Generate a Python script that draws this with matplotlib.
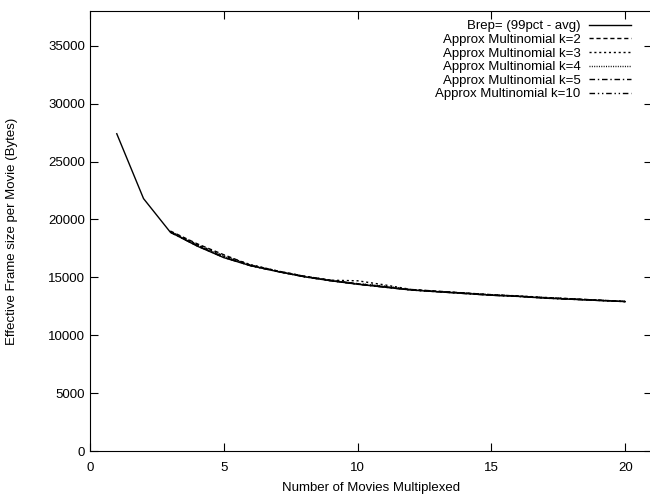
import numpy as np
import matplotlib
matplotlib.use("Agg")
import matplotlib.pyplot as plt

plt.rcParams["font.family"] = ["Liberation Sans", "DejaVu Sans"]
plt.rcParams.update({'font.size': 9.5})

#%% Data

n_brep = [1, 2, 3, 4, 5, 6, 7, 8, 9, 10, 11, 12, 13, 14, 15, 16, 17, 18, 19, 20]
brep = [27400, 21800, 18900, 17700, 16700, 16000, 15500, 15050, 14700, 14400,
        14150, 13900, 13750, 13600, 13450, 13350, 13200, 13100, 13000, 12900]

n_apx = [3, 4, 5, 6, 7, 8, 9, 10, 11, 12, 13, 14, 15, 16, 17, 18, 19, 20]
k2 = [19000, 17900, 16950, 16050, 15550, 15100, 14750, 14450, 14200, 13950,
      13800, 13650, 13500, 13380, 13250, 13150, 13030, 12920]
k3 = [18950, 17850, 16850, 16100, 15550, 15100, 14750, 14700, 14350, 13950,
      13780, 13640, 13480, 13400, 13260, 13140, 13020, 12910]
k4 = [18900, 17800, 16800, 16050, 15520, 15070, 14720, 14450, 14250, 13920,
      13770, 13640, 13500, 13370, 13240, 13130, 13030, 12920]
k5 = [18900, 17750, 16750, 16020, 15510, 15060, 14710, 14420, 14170, 13910,
      13760, 13620, 13470, 13360, 13220, 13120, 13010, 12910]
k10 = [18900, 17720, 16720, 16000, 15500, 15050, 14700, 14400, 14150, 13900,
       13750, 13600, 13450, 13350, 13200, 13100, 13000, 12900]

#%% Plot

fig = plt.figure(figsize=(6.5, 5), dpi=100)
ax = fig.add_axes([90/650, 49/500, 562/650, 440/500])

lw = 1.0
ax.plot(n_brep, brep, '-', color='black', linewidth=lw, label='Brep= (99pct - avg)')
ax.plot(n_apx, k2, color='black', linewidth=lw, dashes=(3, 2), label='Approx Multinomial k=2')
ax.plot(n_apx, k3, color='black', linewidth=lw, dashes=(1.5, 2), label='Approx Multinomial k=3')
ax.plot(n_apx, k4, color='black', linewidth=lw, dashes=(0.7, 1), label='Approx Multinomial k=4')
ax.plot(n_apx, k5, color='black', linewidth=lw, dashes=(4, 2, 1, 2), label='Approx Multinomial k=5')
ax.plot(n_apx, k10, color='black', linewidth=lw, dashes=(4, 2, 1, 2, 1, 2), label='Approx Multinomial k=10')

ax.set_xlim(0, 21)
ax.set_ylim(0, 38000)
ax.set_xticks([0, 5, 10, 15, 20])
ax.set_yticks(np.arange(0, 35001, 5000))
ax.tick_params(direction='in', length=6, top=True, right=True, labelsize=9.5)
ax.tick_params(axis='x', pad=8)
ax.set_xlabel('Number of Movies Multiplexed', labelpad=6)
ax.set_ylabel('Effective Frame size per Movie (Bytes)', labelpad=22)

ax.legend(loc='upper right', frameon=False, markerfirst=False, handlelength=3.2,
          labelspacing=0.1, borderaxespad=0.3, handletextpad=0.6, fontsize=9.5,
          bbox_to_anchor=(550/562, 1.0))

plt.savefig('out.png', dpi=100)
